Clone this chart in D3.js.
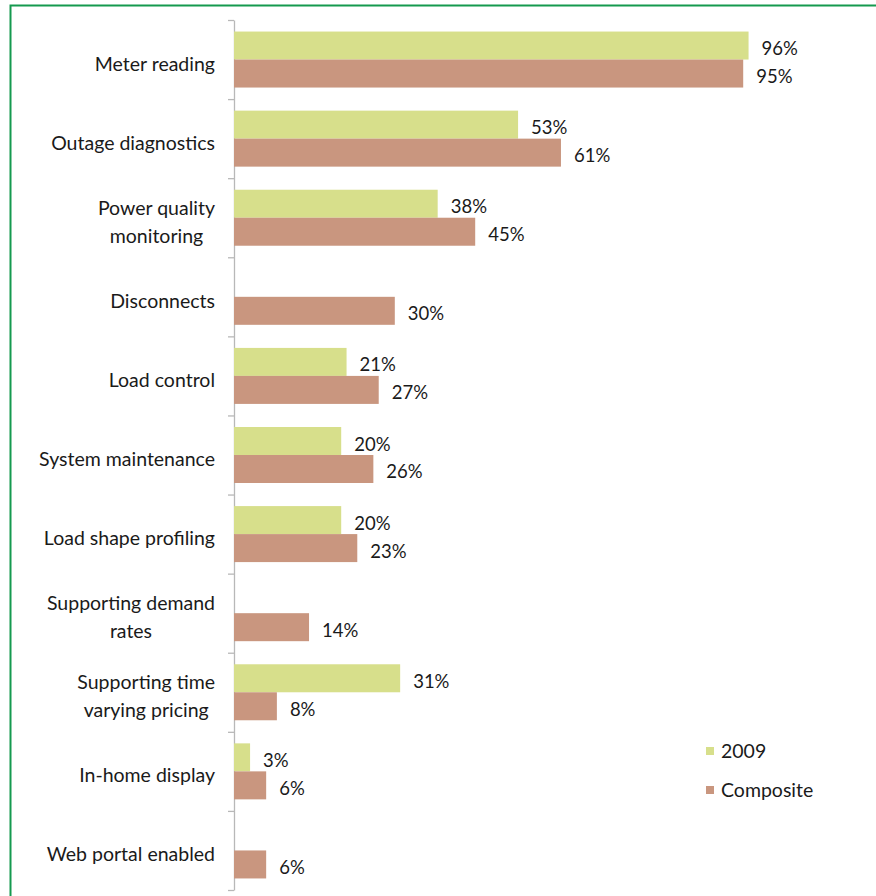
<!DOCTYPE html>
<html>
<head>
<meta charset="utf-8">
<script src="https://cdn.jsdelivr.net/npm/d3@7"></script>
<style>
  html, body { margin: 0; padding: 0; background: #fff; }
  #chart { width: 876px; height: 896px; }
  text { font-family: Lato, "Open Sans", sans-serif; fill: #1a1a1a; }
</style>
</head>
<body>
<div id="chart"></div>
<script>
const categories = [
  ['Meter reading'],
  ['Outage diagnostics'],
  ['Power quality', 'monitoring'],
  ['Disconnects'],
  ['Load control'],
  ['System maintenance'],
  ['Load shape profiling'],
  ['Supporting demand', 'rates'],
  ['Supporting time', 'varying pricing'],
  ['In-home display'],
  ['Web portal enabled']
];
const values2009 = [96, 53, 38, null, 21, 20, 20, null, 31, 3, null];
const valuesComposite = [95, 61, 45, 30, 27, 26, 23, 14, 8, 6, 6];
const seriesNames = ['2009', 'Composite'];

const chart = {};

chart.create = function(config){
  this.config = config;
  this.config.width_svg = 876;
  this.config.height_svg = 896;
  this.config.margin = {top: 20, bottom: 6, left: 234};
  this.config.colorRule = {
    '2009': '#d7df8b',
    'Composite': '#c9967f'
  };
  this.config.svg = d3.select(`#${config.target}`)
                      .append('svg')
                      .attr('width', this.config.width_svg)
                      .attr('height', this.config.height_svg);
  this.update();
};

chart.update = function(){
  const {margin, width_svg, height_svg, colorRule} = this.config;
  const svg = this.config.svg;

  // frame (only left and top edges are visible in the crop)
  svg.append('path')
     .attr('d', `M10.5,${height_svg} L10.5,5.5 L${width_svg},5.5`)
     .attr('fill', 'none')
     .attr('stroke', '#15994f')
     .attr('stroke-width', 2);

  const rows = categories.map((c, i) => ({
    idx: i,
    lines: c,
    vals: {'2009': values2009[i], 'Composite': valuesComposite[i]}
  }));

  const yBand = d3.scaleBand()
                  .domain(d3.range(categories.length))
                  .range([margin.top, height_svg - margin.bottom])
                  .paddingInner(0.292)
                  .paddingOuter(0.146);
  const ySub = d3.scaleBand()
                 .domain(seriesNames)
                 .range([0, yBand.bandwidth()]);
  const xScale = d3.scaleLinear()
                   .domain([0, 100])
                   .range([margin.left, margin.left + 536]);

  // category axis with ticks between groups
  const tickScale = d3.scaleLinear()
                      .domain([0, categories.length])
                      .range([margin.top, height_svg - margin.bottom]);
  svg.append('g')
     .attr('transform', `translate(${margin.left}, 0)`)
     .call(d3.axisLeft(tickScale)
             .tickValues(d3.range(categories.length + 1))
             .tickFormat('')
             .tickSize(6)
             .tickSizeOuter(0))
     .call(g => g.selectAll('line, path').attr('stroke', '#b8b8b8').attr('stroke-width', 1.3));

  // category labels, multi-line centred like Excel
  const labels = svg.append('g').attr('font-size', '19.5px');
  rows.forEach(r => {
    const cy = yBand(r.idx) + yBand.bandwidth() / 2;
    const t = labels.append('text').attr('text-anchor', 'middle');
    r.lines.forEach((ln, j) => {
      t.append('tspan')
       .attr('y', cy + 11 + (j - (r.lines.length - 1) / 2) * 28)
       .text(ln);
    });
    let w = 0;
    t.selectAll('tspan').each(function(){ w = Math.max(w, this.getComputedTextLength()); });
    t.selectAll('tspan').attr('x', 215 - w / 2);
  });

  // bars
  const bars = [];
  rows.forEach(r => seriesNames.forEach(s => {
    if (r.vals[s] != null) bars.push({idx: r.idx, series: s, value: r.vals[s]});
  }));

  svg.append('g')
     .selectAll('rect')
     .data(bars)
     .enter().append('rect')
             .attr('x', xScale(0))
             .attr('y', d => yBand(d.idx) + ySub(d.series))
             .attr('width', d => xScale(d.value) - xScale(0))
             .attr('height', ySub.bandwidth())
             .attr('fill', d => colorRule[d.series]);

  svg.append('g')
     .attr('font-size', '18.5px')
     .selectAll('text')
     .data(bars)
     .enter().append('text')
             .attr('x', d => xScale(d.value) + 13)
             .attr('y', d => yBand(d.idx) + ySub(d.series) + ySub.bandwidth() / 2 + 9.5)
             .text(d => d.value + '%');

  // legend
  const legend = svg.append('g')
                    .attr('transform', 'translate(706, 0)')
                    .selectAll('g')
                    .data(seriesNames)
                    .enter().append('g')
                            .attr('transform', (d, i) => `translate(0, ${751 + i * 39})`);
  legend.append('rect')
        .attr('x', 0).attr('y', -4)
        .attr('width', 8).attr('height', 8)
        .attr('fill', d => colorRule[d]);
  legend.append('text')
        .attr('x', 15)
        .attr('y', 7)
        .attr('font-size', '19.5px')
        .text(d => d);
};

chart.create({target: 'chart'});
</script>
</body>
</html>
